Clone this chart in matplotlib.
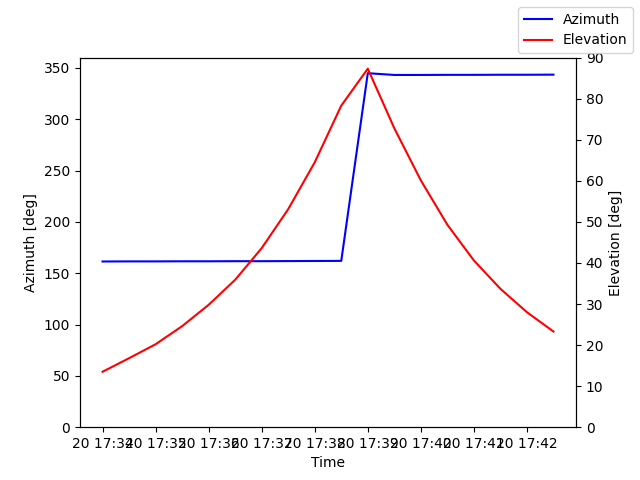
import datetime as dt
import matplotlib
matplotlib.use("Agg")
import matplotlib.pyplot as plt

# one sample every 30 s, 17:34:00 .. 17:42:30
start = dt.datetime(2023, 3, 20, 17, 34, 0)
times = [start + dt.timedelta(seconds=30 * i) for i in range(18)]

azimuth = [161.4, 161.5, 161.5, 161.6, 161.6, 161.7, 161.7, 161.8, 161.9,
           162.0, 344.8, 343.1, 343.1, 343.2, 343.2, 343.3, 343.3, 343.4]
elevation = [13.5, 16.8, 20.2, 24.6, 29.8, 35.9, 43.6, 53.1, 64.5,
             78.3, 87.3, 72.8, 60.1, 49.3, 40.6, 33.7, 28.0, 23.3]

fig, ax = plt.subplots(figsize=(6.4, 4.8), dpi=100)
ax.plot(times, azimuth, color='blue', label='Azimuth')
ax.set_ylim(0, 360)
ax.set_xlabel('Time')
ax.set_ylabel('Azimuth [deg]')

ax2 = ax.twinx()
ax2.plot(times, elevation, color='red', label='Elevation')
ax2.set_ylim(0, 90)
ax2.set_ylabel('Elevation [deg]')

fig.legend(loc='upper right')
fig.savefig('out.png')
